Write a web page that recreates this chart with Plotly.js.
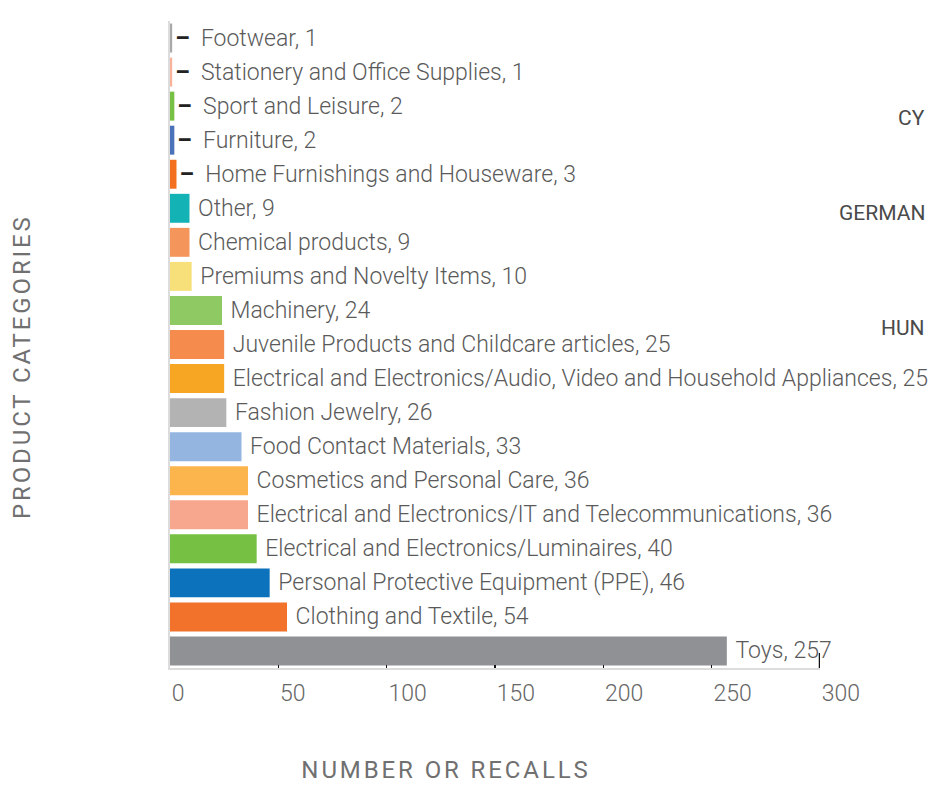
<!DOCTYPE html>
<html>
<head>
<meta charset="utf-8">
<script src="https://cdn.plot.ly/plotly-3.0.1.min.js"></script>
<style>
  html, body { margin: 0; padding: 0; background: #fff; }
  #chart { width: 930px; height: 791px; }
  .annotation[data-index="0"] text, .annotation[data-index="1"] text { letter-spacing: 2.9px; }
</style>
</head>
<body>
<div id="chart"></div>
<script>
// Product categories, top to bottom
const categories = [
  "Footwear",
  "Stationery and Office Supplies",
  "Sport and Leisure",
  "Furniture",
  "Home Furnishings and Houseware",
  "Other",
  "Chemical products",
  "Premiums and Novelty Items",
  "Machinery",
  "Juvenile Products and Childcare articles",
  "Electrical and Electronics/Audio, Video and Household Appliances",
  "Fashion Jewelry",
  "Food Contact Materials",
  "Cosmetics and Personal Care",
  "Electrical and Electronics/IT and Telecommunications",
  "Electrical and Electronics/Luminaires",
  "Personal Protective Equipment (PPE)",
  "Clothing and Textile",
  "Toys"
];
const recalls = [1, 1, 2, 2, 3, 9, 9, 10, 24, 25, 25, 26, 33, 36, 36, 40, 46, 54, 257];
const barColors = [
  "#a9a9a9", "#f9b19a", "#76c043", "#4a72b8", "#f37021", "#12b2b5",
  "#f4955b", "#f7e07a", "#8ec963", "#f58b4c", "#f6a623", "#b3b3b3",
  "#94b5e0", "#fbb54c", "#f7a78e", "#76c043", "#0b72bb", "#f2712b", "#909195"
];
const xTicks = [0, 50, 100, 150, 200, 250, 300];
const sideLabels = ["CY", "GERMAN", "HUN"];
const xTitle = "NUMBER OR RECALLS";
const yTitle = "PRODUCT CATEGORIES";

const NB = "\u00a0";
const labels = categories.map((c, i) => {
  const v = recalls[i];
  if (v < 5) {
    return '<span style="color:#222;font-weight:bold">\u2013</span>' + NB + NB + c + ", " + v;
  }
  return NB + c + ", " + v;
});

const labelFont = { family: "Roboto, 'Liberation Sans', sans-serif", size: 23, color: "#5a5a5a", weight: 300 };

const trace = {
  type: "bar",
  orientation: "h",
  x: recalls,
  y: categories,
  marker: { color: barColors },
  text: labels,
  textposition: "outside",
  cliponaxis: false,
  constraintext: "none",
  textfont: labelFont,
  outsidetextfont: labelFont,
  hoverinfo: "none",
  showlegend: false
};

const W = 930, H = 791;
const mL = 170, mR = 110, mT = 21, mB = 123;
const pw = W - mL - mR, ph = H - mT - mB;
const px = (p) => (p - mL) / pw;
const py = (p) => (H - mB - p) / ph;

const sideY = [118, 213, 328];
const titleFont = { family: "Roboto, sans-serif", size: 24, color: "#707070", weight: 400 };

const annotations = [
  { text: xTitle, xref: "paper", yref: "paper", x: px(446), y: py(770), xanchor: "center", yanchor: "middle",
    showarrow: false, font: titleFont },
  { text: yTitle, xref: "paper", yref: "paper", x: px(22), y: py(367), xanchor: "center", yanchor: "middle",
    textangle: -90, showarrow: false, font: titleFont }
].concat(sideLabels.map((t, i) => ({
  text: t, xref: "paper", yref: "paper", x: px(927), y: py(sideY[i]), xanchor: "right", yanchor: "middle",
  showarrow: false, font: { family: "Roboto, sans-serif", size: 21, color: "#4a4a4a" }
})));

const layout = {
  width: W, height: H,
  margin: { l: mL, r: mR, t: mT, b: mB, pad: 0 },
  paper_bgcolor: "#ffffff",
  plot_bgcolor: "#ffffff",
  bargap: 0.15,
  showlegend: false,
  xaxis: {
    range: [0, 300],
    tickvals: xTicks,
    ticktext: xTicks.map(String),
    ticks: "inside",
    ticklen: 3,
    tickwidth: 1.5,
    tickcolor: "#111",
    ticklabelposition: "outside right",
    ticklabelstandoff: 3,
    tickfont: { family: "Roboto, sans-serif", size: 23, color: "#666", weight: 300 },
    showline: true,
    linecolor: "#dcdcdc",
    linewidth: 2,
    showgrid: false,
    zeroline: false,
    fixedrange: true
  },
  yaxis: {
    type: "category",
    autorange: "reversed",
    showticklabels: false,
    ticks: "",
    showline: true,
    linecolor: "#dcdcdc",
    linewidth: 2,
    showgrid: false,
    zeroline: false,
    fixedrange: true
  },
  shapes: [
    { type: "line", xref: "x", yref: "paper", x0: 300, x1: 300, y0: 0, y1: 15 / ph,
      line: { color: "#111", width: 2.5 } }
  ],
  annotations: annotations
};

Plotly.newPlot("chart", [trace], layout, { staticPlot: true, displayModeBar: false });
</script>
</body>
</html>
